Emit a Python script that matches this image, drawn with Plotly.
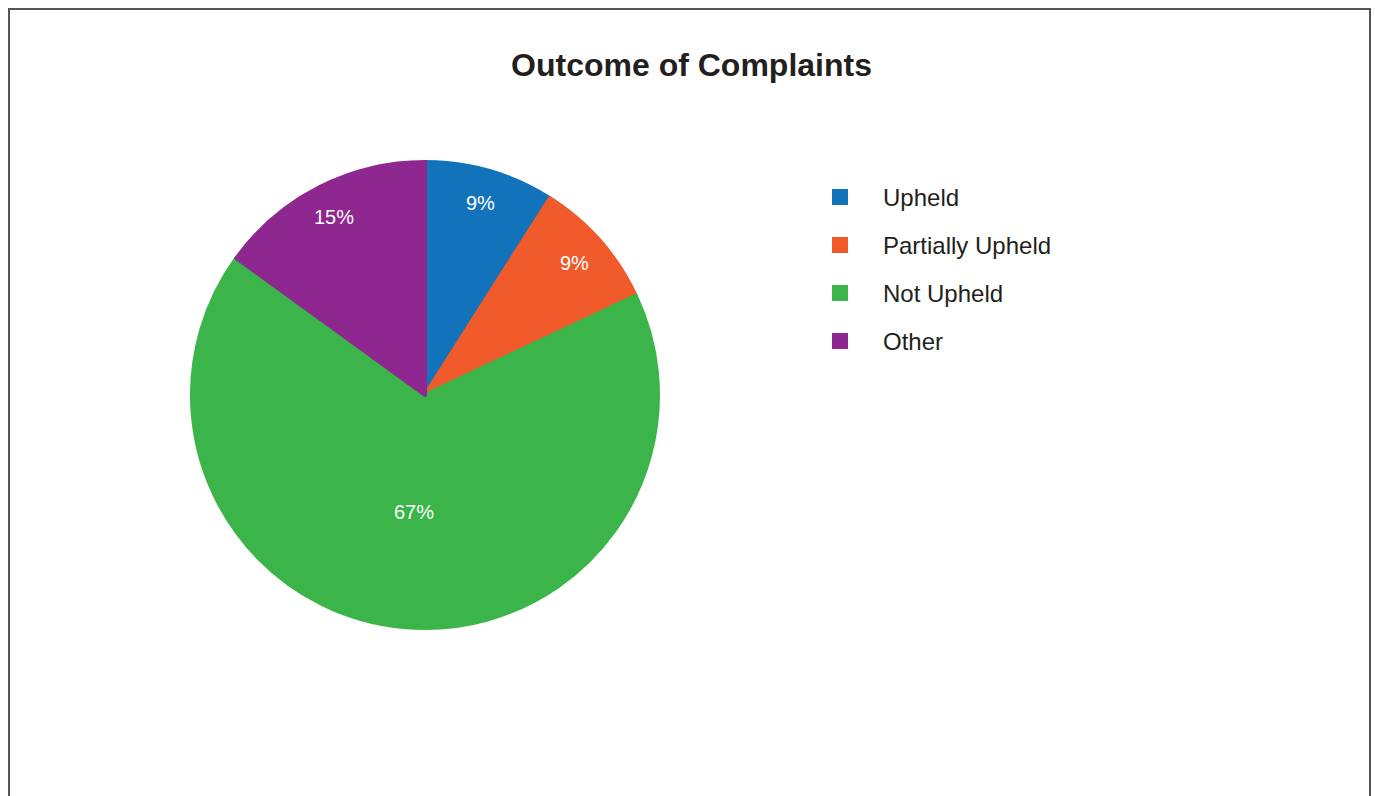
import math
import plotly.graph_objects as go

# Complaint outcomes (percent of total)
categories = ["Upheld", "Partially Upheld", "Not Upheld", "Other"]
shares = [9, 9, 67, 15]
slice_colors = ["#1273BA", "#F15A2B", "#3BB54A", "#8E278F"]

W, H = 1375, 796
FONT = "Arial, 'Liberation Sans', Helvetica, sans-serif"
TEXT_COLOR = "#231F20"

# Pie geometry (pixels)
CX, CY, R = 425, 395, 235
STROKE = 4

# Legend entries: padded with blank lines so the rows sit 48px apart
legend_labels = [
    "&nbsp;<br>&nbsp;<br><span style='font-size:24px'>%s</span><br>&nbsp;" % c
    for c in categories
]

inner = R - STROKE / 2
fig = go.Figure(
    go.Pie(
        labels=legend_labels,
        values=shares,
        sort=False,
        direction="clockwise",
        rotation=0,
        marker=dict(colors=slice_colors, line=dict(color=slice_colors, width=STROKE)),
        textinfo="none",
        hoverinfo="skip",
        domain=dict(
            x=[(CX - inner) / W, (CX + inner) / W],
            y=[1 - (CY + inner) / H, 1 - (CY - inner) / H],
        ),
    )
)

# Percent labels placed along each slice's bisector
total = sum(shares)
annotations = []
start = 0.0
for v in shares:
    frac = v / total
    mid = (start + frac / 2) * 2 * math.pi  # clockwise from 12 o'clock
    rr = 0.5 if frac > 0.5 else 0.85
    px = CX + rr * R * math.sin(mid)
    py = CY - rr * R * math.cos(mid)
    annotations.append(
        dict(
            text="%d%%" % round(frac * 100),
            x=px / W,
            y=1 - py / H,
            xref="paper",
            yref="paper",
            showarrow=False,
            xanchor="center",
            yanchor="middle",
            font=dict(family=FONT, size=20, color="white"),
        )
    )
    start += frac

fig.update_layout(
    width=W,
    height=H,
    margin=dict(l=0, r=0, t=0, b=0),
    paper_bgcolor="white",
    plot_bgcolor="white",
    title=dict(
        text="<b>Outcome of Complaints</b>",
        font=dict(family=FONT, size=32, color=TEXT_COLOR),
        x=691.5 / W,
        xanchor="center",
        y=1 - 65 / H,
        yanchor="middle",
        xref="paper",
        yref="paper",
    ),
    legend=dict(
        x=797 / W,
        xanchor="left",
        y=1 - 168 / H,
        yanchor="top",
        itemwidth=76,
        font=dict(family=FONT, size=8.65, color=TEXT_COLOR),
        bgcolor="rgba(0,0,0,0)",
        borderwidth=0,
        tracegroupgap=0,
    ),
    showlegend=True,
    annotations=annotations,
    shapes=[
        dict(
            type="rect",
            xref="paper",
            yref="paper",
            x0=9 / W,
            x1=1370 / W,
            y0=-0.05,
            y1=1 - 9 / H,
            line=dict(color="#555555", width=2),
            fillcolor="rgba(0,0,0,0)",
        )
    ],
)

fig.write_html("out.html")
